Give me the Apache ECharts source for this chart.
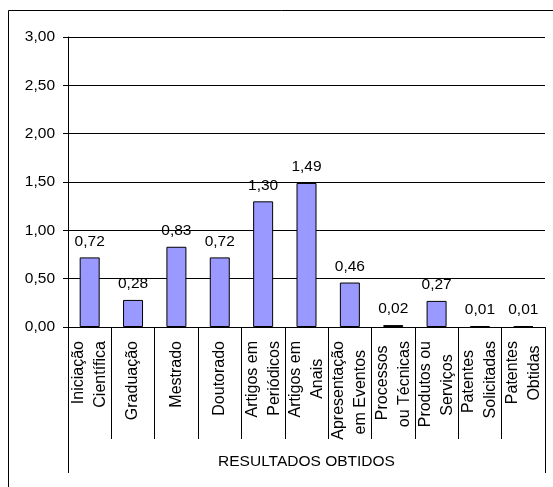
<!DOCTYPE html>
<html>
<head>
<meta charset="utf-8">
<script src="https://cdn.jsdelivr.net/npm/echarts@6/dist/echarts.min.js"></script>
<style>
  html, body { margin: 0; padding: 0; background: #fff; }
  #chart { width: 553px; height: 487px; }
</style>
</head>
<body>
<div id="chart"></div>
<script>
// Categories (two-line labels) and their values
const categories = [
  'Iniciação\nCientífica',
  'Graduação',
  'Mestrado',
  'Doutorado',
  'Artigos em\nPeriódicos',
  'Artigos em\nAnais',
  'Apresentação\nem Eventos',
  'Processos\nou Técnicas',
  'Produtos ou\nServiços',
  'Patentes\nSolicitadas',
  'Patentes\nObtidas'
];
const values = [0.72, 0.28, 0.83, 0.72, 1.30, 1.49, 0.46, 0.02, 0.27, 0.01, 0.01];
const axisTitle = 'RESULTADOS OBTIDOS';
const yMin = 0, yMax = 3, yStep = 0.5;

const FONT = '"Liberation Sans", Arial, sans-serif';
const CAT_SIZE = 16;
const fmt = v => Number(v).toFixed(2).replace('.', ',');

// Labels are end-aligned; shorter lines get trailing no-break spaces so that
// they sit centred on the longest line of their block.
const NBSP = '\u00a0';
const ctx = document.createElement('canvas').getContext('2d');
ctx.font = CAT_SIZE + 'px ' + FONT;
const nbspW = ctx.measureText(NBSP).width || CAT_SIZE * 0.278;
const catLabelText = {};
categories.forEach(cat => {
  const lines = cat.split('\n');
  const widths = lines.map(s => ctx.measureText(s).width);
  const maxW = Math.max.apply(null, widths);
  catLabelText[cat] = lines.map((s, j) => {
    const n = Math.round((maxW - widths[j]) / 2 / nbspW);
    return s + NBSP.repeat(n);
  }).join('\n');
});

const chart = echarts.init(document.getElementById('chart'), null, { renderer: 'canvas' });

chart.setOption({
  animation: false,
  backgroundColor: '#fff',
  textStyle: { fontFamily: FONT, color: '#000', fontSize: 15 },
  grid: { left: 68, right: 8, top: 37, bottom: 160, containLabel: false },
  graphic: [{
    type: 'rect',
    shape: { x: 8.5, y: 10.5, width: 700, height: 700 },
    style: { fill: 'none', stroke: '#000', lineWidth: 1 },
    silent: true
  }],
  xAxis: [{
    type: 'category',
    data: categories,
    position: 'bottom',
    boundaryGap: true,
    axisLine: { show: true, lineStyle: { color: '#000', width: 1 } },
    axisTick: { show: true, length: 112, alignWithLabel: false, lineStyle: { color: '#000', width: 1 } },
    axisLabel: {
      interval: 0,
      rotate: 90,
      margin: 14,
      fontSize: CAT_SIZE,
      lineHeight: 22,
      fontFamily: FONT,
      color: '#000',
      hideOverlap: false,
      formatter: v => catLabelText[v]
    },
    name: axisTitle,
    nameLocation: 'middle',
    nameGap: 127,
    nameTextStyle: { fontSize: 15.5, fontFamily: FONT, color: '#000', verticalAlign: 'top' }
  }, {
    // single-band axis whose end ticks frame the category label area
    type: 'category',
    data: [''],
    position: 'top',
    offset: -290,
    boundaryGap: true,
    axisLine: { show: false },
    axisTick: { show: true, inside: true, length: 146, lineStyle: { color: '#000', width: 1 } },
    axisLabel: { show: false },
    splitLine: { show: false }
  }],
  yAxis: {
    type: 'value',
    min: yMin,
    max: yMax,
    interval: yStep,
    axisLine: { show: true, lineStyle: { color: '#000', width: 1 } },
    axisTick: { show: true, length: 5, lineStyle: { color: '#000', width: 1 } },
    axisLabel: { margin: 13, fontSize: 15.5, fontFamily: FONT, color: '#000', formatter: fmt },
    splitLine: { show: true, lineStyle: { color: '#000', width: 1 } }
  },
  series: [{
    type: 'bar',
    xAxisIndex: 0,
    data: values,
    barWidth: 20,
    itemStyle: { color: '#9999FF', borderColor: '#000', borderWidth: 1 },
    label: {
      show: true,
      position: 'top',
      distance: 8,
      fontSize: 15.5,
      fontFamily: FONT,
      color: '#000',
      formatter: p => fmt(p.value)
    }
  }]
});
</script>
</body>
</html>
